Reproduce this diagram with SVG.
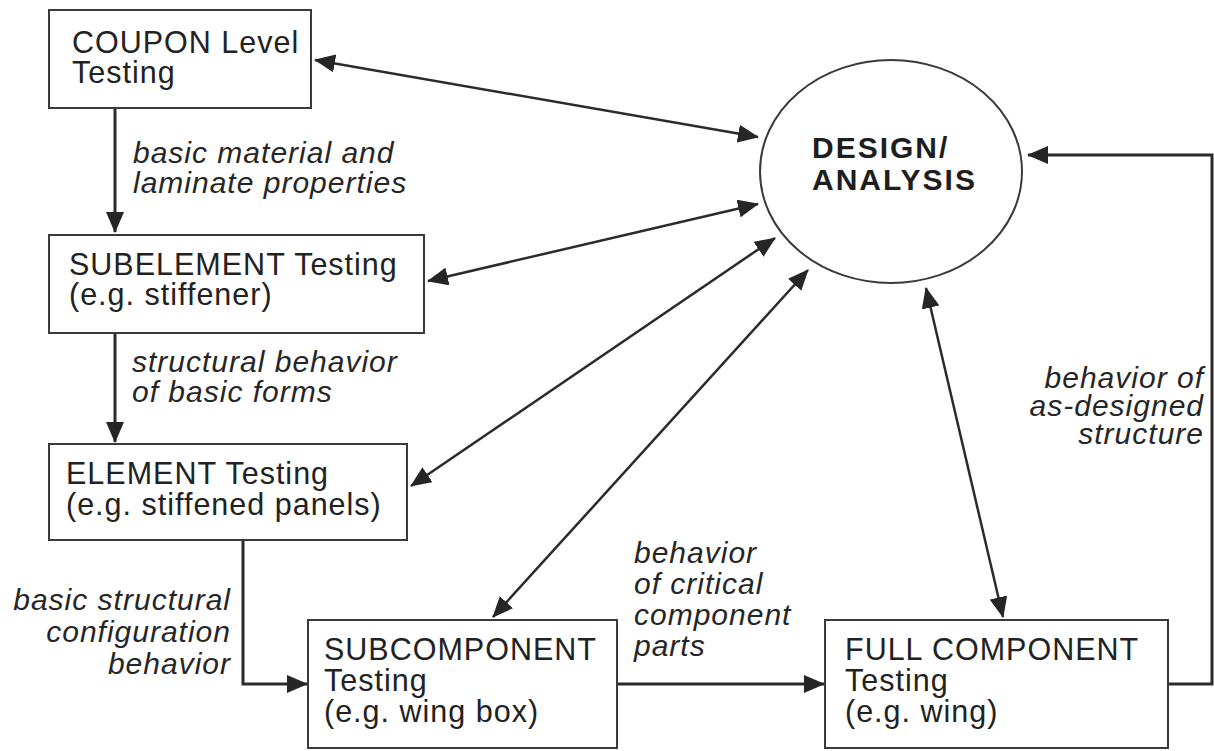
<svg xmlns="http://www.w3.org/2000/svg" width="1214" height="751" viewBox="0 0 1214 751">
  <style>
    .box { fill: #ffffff; stroke: #3a3a3a; stroke-width: 2; }
    .hub { fill: #ffffff; stroke: #3a3a3a; stroke-width: 2; }
    .lbl { font-family: "Liberation Sans", Arial, Helvetica, sans-serif; font-size: 30.5px; letter-spacing: 1px; fill: #222222; }
    .hub-lbl { font-family: "Liberation Sans", Arial, Helvetica, sans-serif; font-size: 30px; font-weight: bold; letter-spacing: 2px; fill: #1e1e1e; }
    .note { font-family: "Liberation Sans", Arial, Helvetica, sans-serif; font-size: 30px; font-style: italic; letter-spacing: 1px; fill: #262626; }
    .end { text-anchor: end; }
    .flow { fill: none; stroke: #2b2b2b; stroke-width: 3; }
    .link { fill: none; stroke: #2b2b2b; stroke-width: 2.5; }
  </style>
  <defs>
    <marker id="head" viewBox="0 0 21 18" refX="20" refY="9" markerWidth="21" markerHeight="18" markerUnits="userSpaceOnUse" orient="auto-start-reverse">
      <path d="M0,0 L21,9 L0,18 z" fill="#262626"/>
    </marker>
  </defs>

  <rect width="1214" height="751" fill="#ffffff"/>

  <!-- connectors -->
  <g id="connectors">
    <!-- test levels exchange with design/analysis -->
    <line class="link" x1="315" y1="60" x2="758" y2="137" marker-start="url(#head)" marker-end="url(#head)"/>
    <line class="link" x1="428" y1="281" x2="758" y2="204" marker-start="url(#head)" marker-end="url(#head)"/>
    <line class="link" x1="411" y1="486" x2="775" y2="238" marker-start="url(#head)" marker-end="url(#head)"/>
    <line class="link" x1="493" y1="617" x2="808" y2="270" marker-start="url(#head)" marker-end="url(#head)"/>
    <line class="link" x1="926" y1="288" x2="1003" y2="617" marker-start="url(#head)" marker-end="url(#head)"/>
    <!-- building-block progression -->
    <line class="flow" x1="115" y1="108" x2="115" y2="232" marker-end="url(#head)"/>
    <line class="flow" x1="115" y1="333" x2="115" y2="442" marker-end="url(#head)"/>
    <polyline class="flow" points="243,540 243,684 307,684" marker-end="url(#head)"/>
    <line class="flow" x1="617" y1="684" x2="824" y2="684" marker-end="url(#head)"/>
    <polyline class="flow" points="1168,684 1212,684 1212,155 1028,155" marker-end="url(#head)"/>
  </g>

  <!-- connector labels -->
  <g id="labels">
    <text class="note" x="133" y="163">basic material and</text>
    <text class="note" x="133" y="193">laminate properties</text>
    <text class="note" x="132" y="372">structural behavior</text>
    <text class="note" x="132" y="402">of basic forms</text>
    <text class="note end" x="231" y="610">basic structural</text>
    <text class="note end" x="231" y="642">configuration</text>
    <text class="note end" x="231" y="674">behavior</text>
    <text class="note" x="634" y="563">behavior</text>
    <text class="note" x="634" y="594">of critical</text>
    <text class="note" x="634" y="625">component</text>
    <text class="note" x="634" y="656">parts</text>
    <text class="note end" x="1204" y="388">behavior of</text>
    <text class="note end" x="1204" y="416">as-designed</text>
    <text class="note end" x="1204" y="444">structure</text>
  </g>

  <g id="coupon">
    <rect class="box" x="49" y="10" width="262" height="98"/>
    <text class="lbl" x="72" y="53">COUPON Level</text>
    <text class="lbl" x="72" y="83">Testing</text>
  </g>

  <g id="subelement">
    <rect class="box" x="49" y="235" width="375" height="98"/>
    <text class="lbl" x="69" y="275">SUBELEMENT Testing</text>
    <text class="lbl" x="69" y="305">(e.g. stiffener)</text>
  </g>

  <g id="element">
    <rect class="box" x="49" y="444" width="358" height="96"/>
    <text class="lbl" x="66" y="484">ELEMENT Testing</text>
    <text class="lbl" x="66" y="515">(e.g. stiffened panels)</text>
  </g>

  <g id="subcomponent">
    <rect class="box" x="308" y="620" width="309" height="128"/>
    <text class="lbl" x="324" y="660">SUBCOMPONENT</text>
    <text class="lbl" x="324" y="691">Testing</text>
    <text class="lbl" x="324" y="722">(e.g. wing box)</text>
  </g>

  <g id="full-component">
    <rect class="box" x="825" y="620" width="343" height="128"/>
    <text class="lbl" x="845" y="660">FULL COMPONENT</text>
    <text class="lbl" x="845" y="691">Testing</text>
    <text class="lbl" x="845" y="722">(e.g. wing)</text>
  </g>

  <g id="design-analysis">
    <ellipse class="hub" cx="891" cy="171.5" rx="131" ry="111.5"/>
    <text class="hub-lbl" x="812" y="158">DESIGN/</text>
    <text class="hub-lbl" x="812" y="190">ANALYSIS</text>
  </g>
</svg>
